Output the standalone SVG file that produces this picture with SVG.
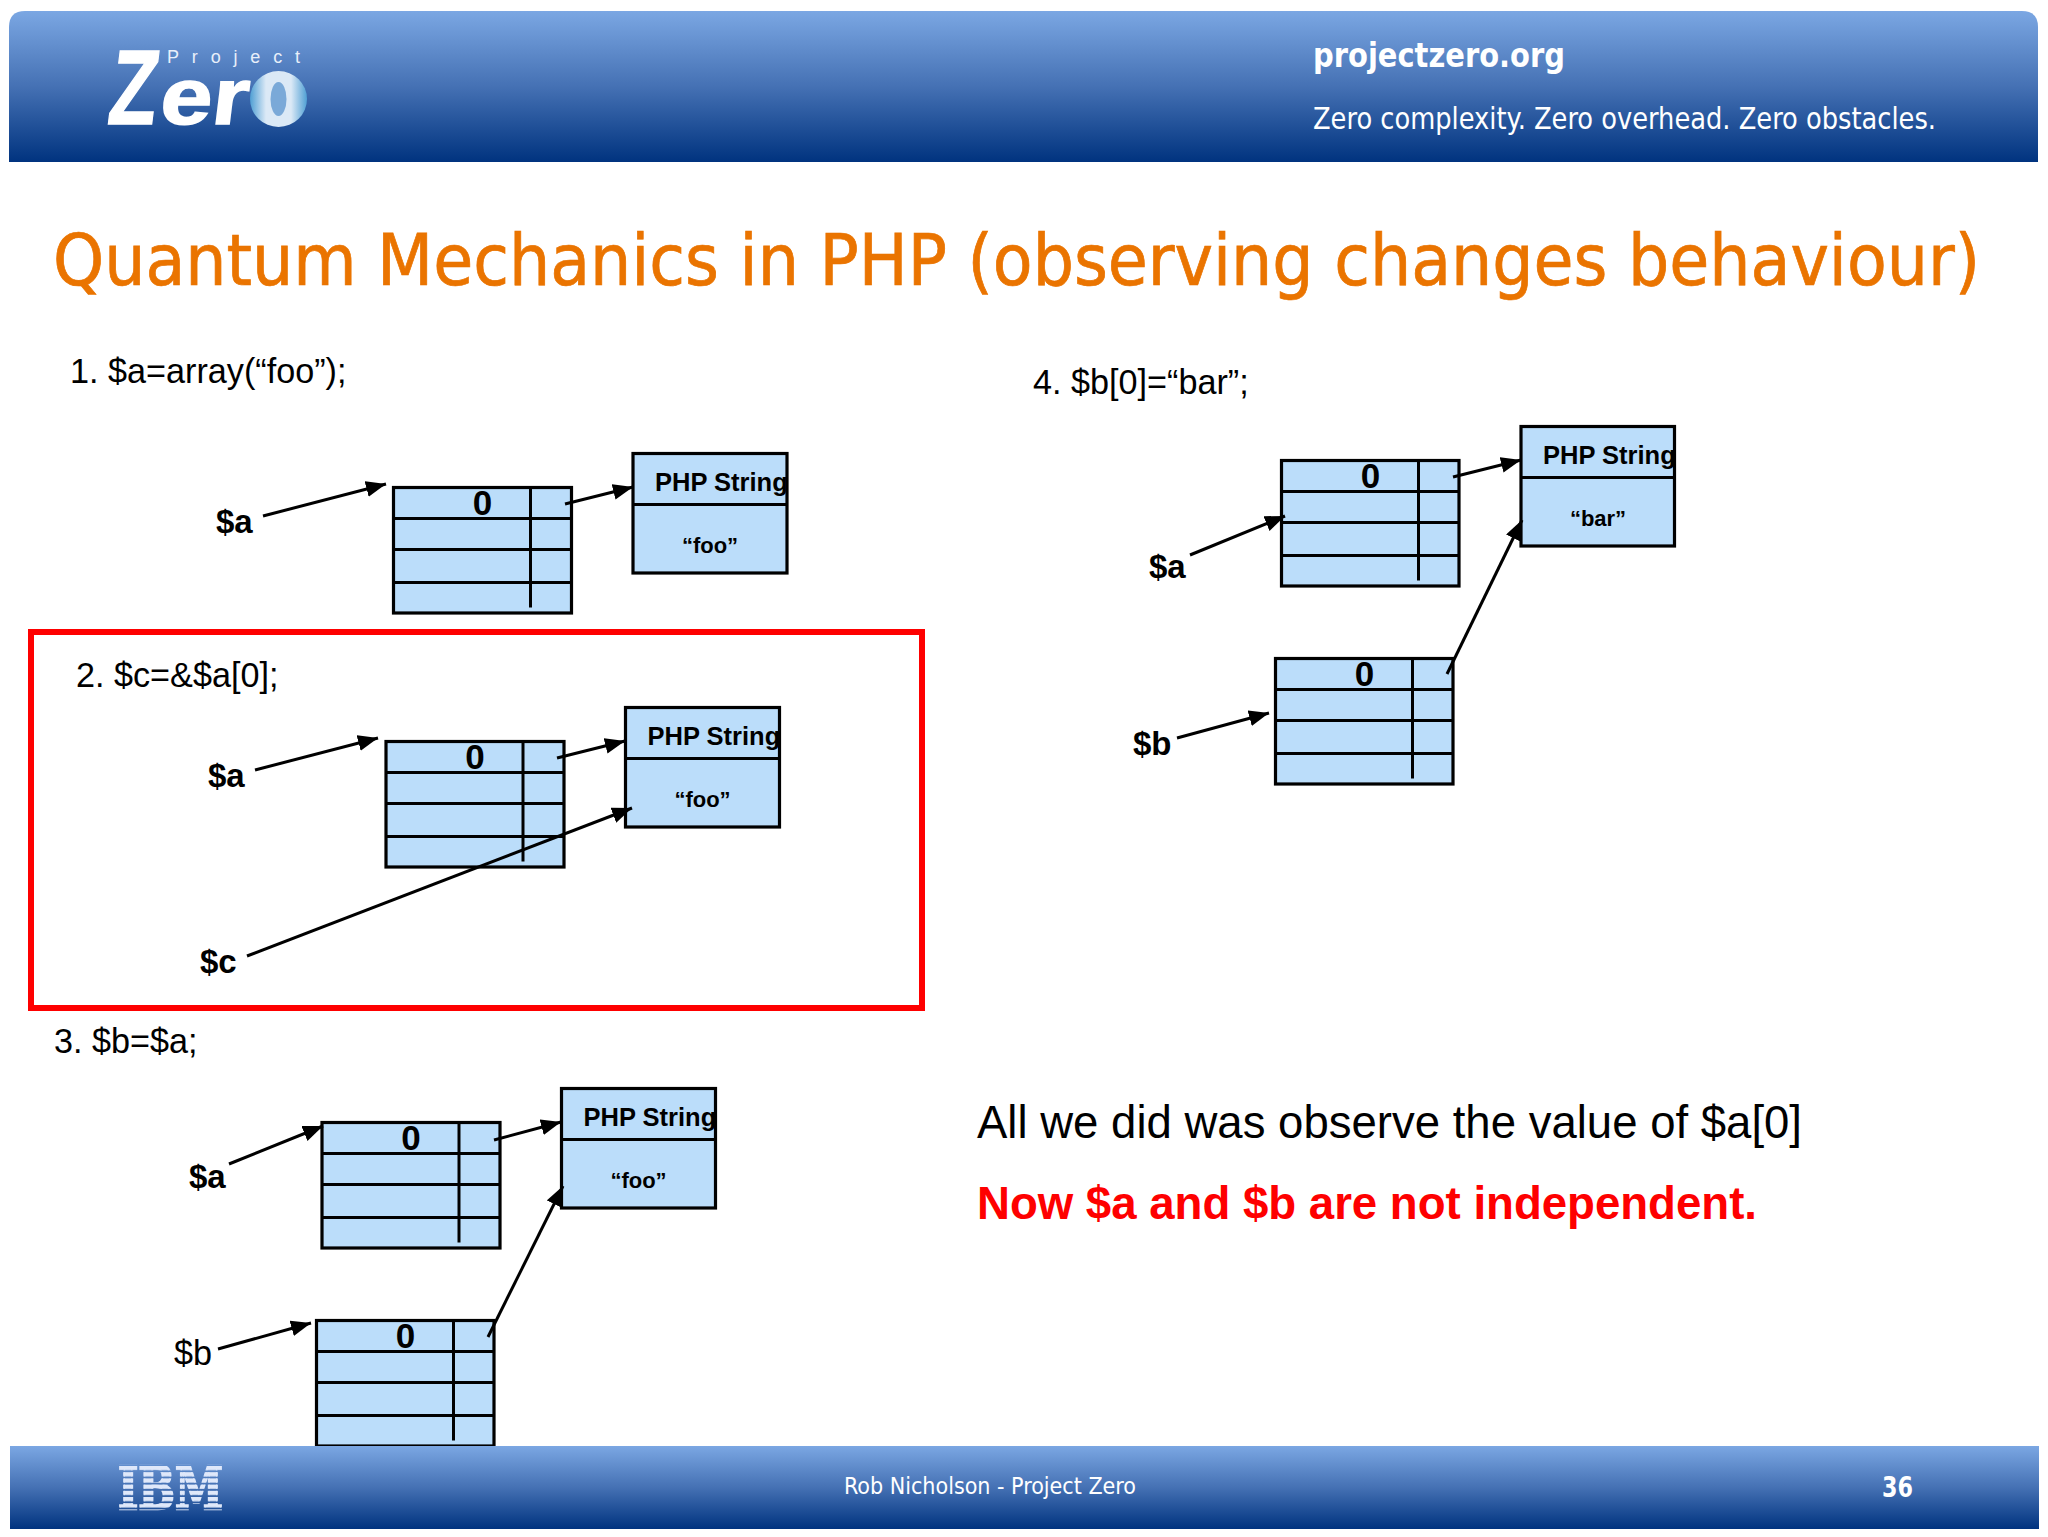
<svg xmlns="http://www.w3.org/2000/svg" width="2048" height="1537" viewBox="0 0 2048 1537">
<style>
.cell{fill:#bbddfa;stroke:#000;stroke-width:3.2}
.grid{stroke:#000;stroke-width:3.2;fill:none}
.vline{stroke:#000;stroke-width:3;fill:none}
.cn{stroke:#000;stroke-width:3;fill:none;marker-end:url(#ah)}
.sans{font-family:"Liberation Sans",Arial,sans-serif;fill:#000}
.b{font-weight:700}
.zero{font-size:35px;font-weight:700;text-anchor:middle;font-family:"Liberation Sans",Arial,sans-serif}
.php{font-size:25.5px;font-weight:700;font-family:"Liberation Sans",Arial,sans-serif}
.val{font-size:22px;font-weight:700;text-anchor:middle;font-family:"Liberation Sans",Arial,sans-serif}
.var{font-size:33px;font-weight:700;font-family:"Liberation Sans",Arial,sans-serif}
.step{font-size:34.2px;font-family:"Liberation Sans",Arial,sans-serif}
.tah{font-family:"DejaVu Sans Condensed","DejaVu Sans",sans-serif;font-stretch:condensed}
</style>
<defs>
<linearGradient id="bar" x1="0" y1="0" x2="0" y2="1"><stop offset="0" stop-color="#7ba7e3"/><stop offset="0.5" stop-color="#4571b4"/><stop offset="1" stop-color="#00337f"/></linearGradient>
<linearGradient id="orb" x1="0" y1="0" x2="1" y2="0"><stop offset="0" stop-color="#4f9fd4"/><stop offset="0.28" stop-color="#dbe9f6"/><stop offset="0.72" stop-color="#dbe9f6"/><stop offset="1" stop-color="#4f9fd4"/></linearGradient>
<pattern id="stripes" patternUnits="userSpaceOnUse" width="10" height="6.2" y="1466"><rect width="10" height="4.2" fill="#dfe8fa"/></pattern>
<marker id="ah" markerUnits="userSpaceOnUse" markerWidth="22" markerHeight="18" refX="20" refY="8" orient="auto"><path d="M0 0L20 8L0 16Z" fill="#000"/></marker>
</defs>
<rect width="2048" height="1537" fill="#fff"/>

<g id="header">
<path d="M9 162V27Q9 11 25 11H2022Q2038 11 2038 27V162Z" fill="url(#bar)"/>
<g id="logo">
<text transform="translate(106 124) skewX(-7)" font-family="'Liberation Sans',Arial,sans-serif" font-weight="700" fill="#fff" stroke="#fff" stroke-width="1.5" font-size="106" textLength="48" lengthAdjust="spacingAndGlyphs">Z</text>
<text transform="translate(158 124) skewX(-7)" font-family="'Liberation Sans',Arial,sans-serif" font-weight="700" fill="#fff" stroke="#fff" stroke-width="1.5" font-size="80" textLength="88" lengthAdjust="spacingAndGlyphs">er</text>
<text x="167" y="63" font-family="'Liberation Sans',Arial,sans-serif" fill="#e8effa" font-size="18" textLength="133">Project</text>
<ellipse cx="278.500" cy="99" rx="28.500" ry="28" fill="url(#orb)"/>
<ellipse cx="278.500" cy="99" rx="8" ry="17" fill="#7aa9d8"/>
</g>
<text class="tah" x="1313" y="67" fill="#fff" font-size="33" font-weight="700" textLength="252" lengthAdjust="spacingAndGlyphs">projectzero.org</text>
<text class="tah" x="1313" y="129" fill="#fff" font-size="30" textLength="623" lengthAdjust="spacingAndGlyphs">Zero complexity. Zero overhead. Zero obstacles.</text>
</g>

<text id="title" class="tah" x="53" y="285" fill="#ea7400" stroke="#ea7400" stroke-width="0.7" font-size="72" textLength="1927" lengthAdjust="spacingAndGlyphs">Quantum Mechanics in PHP (observing changes behaviour)</text>

<rect id="highlight" x="31" y="632" width="891" height="376" fill="none" stroke="#fe0000" stroke-width="6"/>

<text class="step" x="70" y="383">1. $a=array(“foo”);</text>
<text class="step" x="76" y="687">2. $c=&amp;$a[0];</text>
<text class="step" x="54" y="1053">3. $b=$a;</text>
<text class="step" x="1033" y="394">4. $b[0]=“bar”;</text>

<g id="d1-var-a"><text class="var" x="216" y="533">$a</text></g>
<g id="d2-var-a"><text class="var" x="208" y="787">$a</text></g>
<g id="d2-var-c"><text class="var" x="200" y="973">$c</text></g>
<g id="d3-var-a"><text class="var" x="189" y="1188">$a</text></g>
<g id="d3-var-b"><text class="step" x="174" y="1365">$b</text></g>
<g id="d4-var-a"><text class="var" x="1149" y="578">$a</text></g>
<g id="d4-var-b"><text class="var" x="1133" y="755">$b</text></g>

<g id="d1-table" transform="translate(393.500 487.500)"><rect class="cell" width="178" height="125.500"/><path class="grid" d="M0 31H178M0 62H178M0 95H178"/><path class="vline" d="M137 0V120"/><text class="zero" x="89" y="27">0</text></g>
<g id="d1-string" transform="translate(633 453.500)"><rect class="cell" width="154" height="119.500"/><path class="grid" d="M0 51H154"/><text class="php" x="22" y="37">PHP String</text><text class="val" x="77" y="99">“foo”</text></g>

<g id="d2-table" transform="translate(386 741.500)"><rect class="cell" width="178" height="125.500"/><path class="grid" d="M0 31H178M0 62H178M0 95H178"/><path class="vline" d="M137 0V120"/><text class="zero" x="89" y="27">0</text></g>
<g id="d2-string" transform="translate(625.500 707.500)"><rect class="cell" width="154" height="119.500"/><path class="grid" d="M0 51H154"/><text class="php" x="22" y="37">PHP String</text><text class="val" x="77" y="99">“foo”</text></g>

<g id="d3-table-a" transform="translate(322 1122.500)"><rect class="cell" width="178" height="125.500"/><path class="grid" d="M0 31H178M0 62H178M0 95H178"/><path class="vline" d="M137 0V120"/><text class="zero" x="89" y="27">0</text></g>
<g id="d3-string" transform="translate(561.500 1088.500)"><rect class="cell" width="154" height="119.500"/><path class="grid" d="M0 51H154"/><text class="php" x="22" y="37">PHP String</text><text class="val" x="77" y="99">“foo”</text></g>
<g id="d3-table-b" transform="translate(316.500 1320.500)"><rect class="cell" width="177.500" height="125.500"/><path class="grid" d="M0 31H177.500M0 62H177.500M0 95H177.500"/><path class="vline" d="M137 0V120"/><text class="zero" x="89" y="27">0</text></g>

<g id="d4-table-a" transform="translate(1281.500 460.500)"><rect class="cell" width="177.500" height="125.500"/><path class="grid" d="M0 31H177.500M0 62H177.500M0 95H177.500"/><path class="vline" d="M137 0V120"/><text class="zero" x="89" y="27">0</text></g>
<g id="d4-string" transform="translate(1521 426.500)"><rect class="cell" width="153.500" height="119.500"/><path class="grid" d="M0 51H153.500"/><text class="php" x="22" y="37">PHP String</text><text class="val" x="77" y="99">“bar”</text></g>
<g id="d4-table-b" transform="translate(1275.500 658.500)"><rect class="cell" width="177.500" height="125.500"/><path class="grid" d="M0 31H177.500M0 62H177.500M0 95H177.500"/><path class="vline" d="M137 0V120"/><text class="zero" x="89" y="27">0</text></g>

<g id="connectors">
<path class="cn" d="M263 516L386 484"/>
<path class="cn" d="M565 504L633 487"/>
<path class="cn" d="M255 770L378 738"/>
<path class="cn" d="M557 758L625 741"/>
<path class="cn" d="M247 956L632 808"/>
<path class="cn" d="M229 1164L323 1126"/>
<path class="cn" d="M494 1140L561 1122"/>
<path class="cn" d="M218 1349L311 1323"/>
<path class="cn" d="M488 1337L563 1186"/>
<path class="cn" d="M1190 555L1285 516"/>
<path class="cn" d="M1453 477L1521 460"/>
<path class="cn" d="M1177 738L1269 713"/>
<path class="cn" d="M1447 674L1522 520"/>
</g>

<text class="sans" x="977" y="1138" font-size="46" textLength="825" lengthAdjust="spacingAndGlyphs">All we did was observe the value of $a[0]</text>
<text class="sans b" x="977" y="1219" font-size="46" textLength="780" lengthAdjust="spacingAndGlyphs" style="fill:#fe0000">Now $a and $b are not independent.</text>

<g id="footer">
<rect x="10" y="1446" width="2029" height="83" fill="url(#bar)"/>
<text x="118" y="1509" font-family="'DejaVu Serif',serif" font-weight="700" font-size="59" fill="url(#stripes)" stroke="url(#stripes)" stroke-width="2.5" textLength="105" lengthAdjust="spacingAndGlyphs">IBM</text>
<text class="tah" x="844" y="1494" fill="#fff" font-size="23" textLength="292" lengthAdjust="spacingAndGlyphs">Rob Nicholson - Project Zero</text>
<text class="tah" x="1882" y="1497" fill="#fff" font-size="28" font-weight="700" textLength="31" lengthAdjust="spacingAndGlyphs">36</text>
</g>
</svg>
